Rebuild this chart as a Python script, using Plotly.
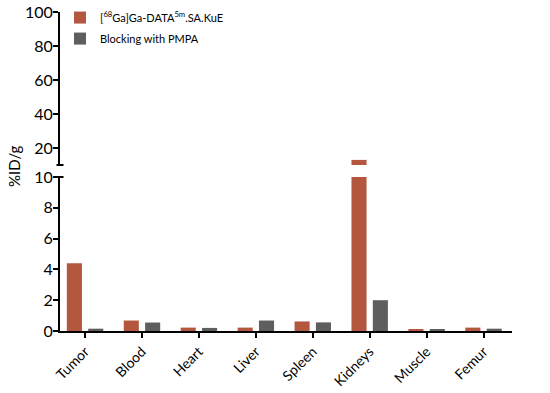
import plotly.graph_objects as go

categories = ["Tumor", "Blood", "Heart", "Liver", "Spleen", "Kidneys", "Muscle", "Femur"]
tracer_vals = [4.4, 0.68, 0.22, 0.22, 0.62, 13.0, 0.08, 0.22]
blocking_vals = [0.15, 0.55, 0.2, 0.68, 0.56, 2.0, 0.07, 0.15]
series_names = ["[<sup>68</sup>Ga]Ga-DATA<sup>5m</sup>.SA.KuE", "Blocking with PMPA"]
colors = ["#b3573f", "#5e5e5e"]
lower_ticks = [0, 2, 4, 6, 8, 10]
upper_ticks = [20, 40, 60, 80, 100]

W, H = 550, 393
L, R, T, B = 60, 38, 12, 62
plot_h = H - T - B
lower_top_px = 177
upper_bot_px = 165
lower_dom = [0, (H - B - lower_top_px) / plot_h]
upper_dom = [(H - B - upper_bot_px) / plot_h, 1]

FONT = "Lato, 'Open Sans', sans-serif"

fig = go.Figure()
for i, (vals, name, col, off) in enumerate([(tracer_vals, series_names[0], colors[0], -0.32),
                                            (blocking_vals, series_names[1], colors[1], 0.055)]):
    for yax, show in [("y", True), ("y2", False)]:
        fig.add_trace(go.Bar(
            x=categories, y=vals, name=name, marker_color=col, marker_line_width=0,
            width=0.265, offset=off, yaxis=yax, showlegend=show, legendgroup=f"g{i}",
        ))

axis_common = dict(showline=True, linecolor="black", linewidth=2, ticks="outside",
                   ticklen=5, tickwidth=2, tickcolor="black", showgrid=False, zeroline=False)
yfont = dict(family=FONT, size=16, color="black")
xfont = dict(family=FONT, size=14, color="black")

fig.update_layout(
    width=W, height=H, margin=dict(l=L, r=R, t=T, b=B, autoexpand=False),
    paper_bgcolor="white", plot_bgcolor="white", barmode="overlay",
    xaxis=dict(**axis_common, tickfont=xfont, range=[-0.44, 7.5], tickangle=-45, anchor="y"),
    yaxis=dict(**axis_common, tickfont=yfont, domain=lower_dom, range=[0, 10],
               tickvals=lower_ticks, anchor="x", ticklabelstandoff=-3),
    yaxis2=dict(**axis_common, tickfont=yfont, domain=upper_dom, range=[10, 100],
                tickvals=upper_ticks, anchor="x", ticklabelstandoff=-3),
    legend=dict(x=0.0, y=1.028, xanchor="left", yanchor="top", bgcolor="rgba(0,0,0,0)",
                font=dict(family=FONT, size=11, color="black"), tracegroupgap=2, itemwidth=30),
    showlegend=True,
)

# axis break marks
dx = 3.5 / (W - L - R)
for ypx in [upper_bot_px, lower_top_px]:
    yp = (H - B - ypx) / plot_h
    fig.add_shape(type="line", xref="paper", yref="paper", x0=-dx, x1=dx, y0=yp, y1=yp,
                  line=dict(color="black", width=2))

fig.add_annotation(text="%ID/g", xref="paper", yref="paper",
                   x=(14 - L) / (W - L - R), y=(H - B - 166) / plot_h,
                   textangle=-90, showarrow=False, xanchor="center", yanchor="middle",
                   font=dict(family=FONT, size=15, color="black"))

fig.write_html("out.html", config={"displayModeBar": False},
               post_script="document.body.style.margin='0';document.body.style.overflow='hidden';")
